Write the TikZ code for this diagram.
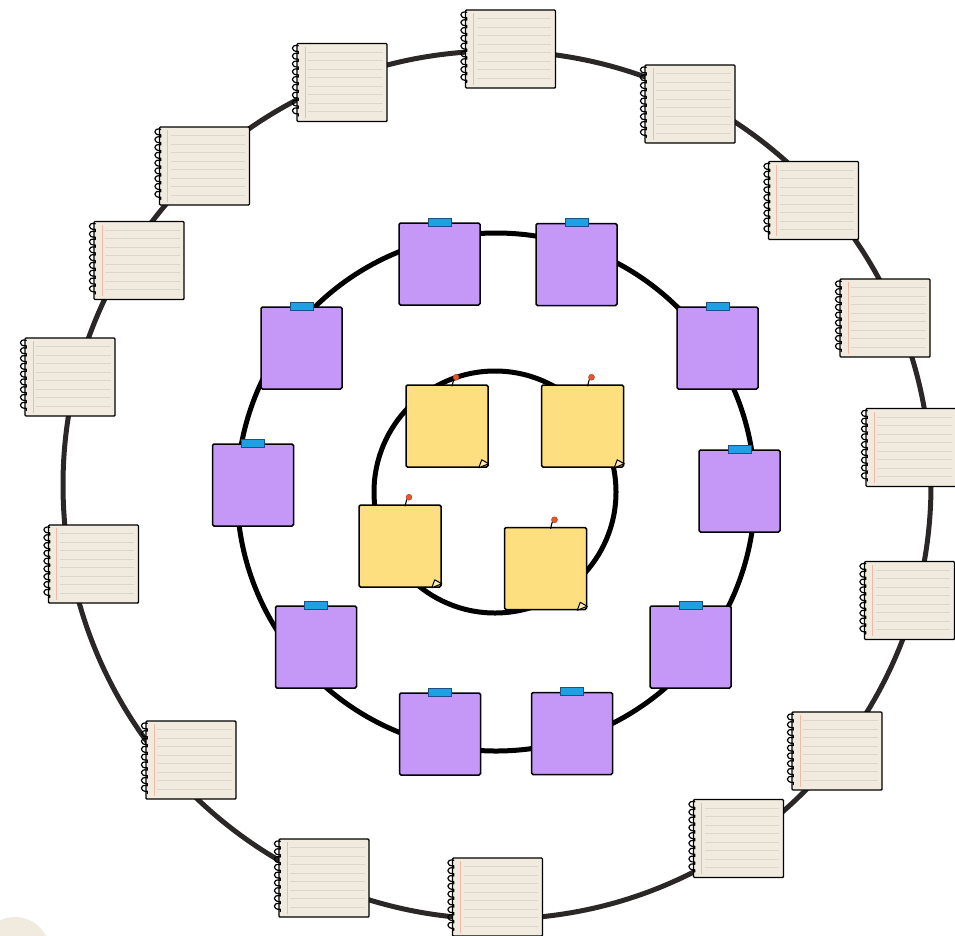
\documentclass[tikz,border=0pt]{standalone}

\definecolor{paperfill}{HTML}{F1EBDF}
\definecolor{paperline}{HTML}{DCD5C9}
\definecolor{papermargin}{HTML}{F2B9A6}
\definecolor{ringgray}{HTML}{2B2727}
\definecolor{purplefill}{HTML}{C597F6}
\definecolor{tapefill}{HTML}{1EA0E2}
\definecolor{tapeedge}{HTML}{1B4F86}
\definecolor{yellowfill}{HTML}{FDDF80}
\definecolor{yellowfold}{HTML}{FBEBB4}
\definecolor{pinred}{HTML}{E8552F}

\begin{document}
\begin{tikzpicture}[x=1pt, y=-1pt]
  % Styles
  \tikzstyle{ring}=[line width=5pt]
  \tikzstyle{paper}=[rectangle, draw, fill=paperfill, minimum width=90pt, minimum height=78pt, inner sep=0pt, line width=1.4pt, rounded corners=1pt]
  \tikzstyle{ruling}=[draw=paperline, line width=0.9pt]
  \tikzstyle{spiral}=[line width=1.2pt, line join=round, line cap=round]
  \tikzstyle{purplenote}=[rectangle, draw, fill=purplefill, minimum width=81pt, minimum height=82pt, inner sep=0pt, line width=1.5pt, rounded corners=1.5pt]
  \tikzstyle{tape}=[rectangle, draw=tapeedge, fill=tapefill, minimum width=23pt, minimum height=8pt, inner sep=0pt, line width=0.8pt]
  \tikzstyle{yellownote}=[rectangle, draw, fill=yellowfill, minimum width=82pt, minimum height=82pt, inner sep=0pt, line width=1.5pt, rounded corners=1.5pt]
  \tikzstyle{pin}=[circle, fill=pinred, draw=pinred!70!black, inner sep=0pt, minimum size=6pt, line width=0.4pt]

  \useasboundingbox (0,0) rectangle (955,935);
  \clip (0,0) rectangle (955,935);

  % Corner scrap
  \fill[paperfill] (15,952) circle (35pt);

  % Rings
  \coordinate (outerc) at (497,485);
  \coordinate (middlec) at (496,492);
  \coordinate (innerc) at (495,492);
  \draw[ring, draw=ringgray] (outerc) circle (434pt);
  \draw[ring] (middlec) circle (259pt);
  \draw[ring] (innerc) circle (121pt);

  % Outer ring: notebook pages
  \foreach \n/\x/\y in {1/510.5/49, 2/342/82.5, 3/204.5/166, 4/139/260.5, 5/70/377, 6/93.5/564,
                        7/191/760, 8/324/878, 9/497.5/897, 10/738.5/838.5, 11/837/751,
                        12/909.5/600.5, 13/911/447.5, 14/885/318, 15/813.5/200.5, 16/690/104} {
    \node[paper] (paper\n) at (\x,\y) {};
    \foreach \k in {0,...,7}
      \draw[ruling] ([shift={(12,{9.5+\k*8.5})}]paper\n.north west) -- ([shift={(-5,{9.5+\k*8.5})}]paper\n.north east);
    \draw[draw=papermargin, line width=0.9pt] ([shift={(9,4)}]paper\n.north west) -- ([shift={(9,-4)}]paper\n.south west);
    \draw[spiral] ([shift={(2,3)}]paper\n.north west)
      \foreach \k in {0,...,8} { .. controls +(-8,-2) and +(-8,1) .. ++(0,5.5) -- ++(0,2.3) };
  }

  % Middle ring: taped notes
  \foreach \n/\x/\y in {1/439.5/264, 2/576.5/264.5, 3/301.5/348, 4/717.5/348, 5/253/485,
                        6/739.5/491, 7/316/647, 8/690.5/647, 9/440/734, 10/572/733.5} {
    \node[purplenote] (purple\n) at (\x,\y) {};
    \node[tape] (tape\n) at (purple\n.north) {};
  }

  % Inner ring: pinned notes
  \foreach \n/\x/\y in {1/447/426, 2/582.5/426, 3/400/546, 4/545.5/568.5} {
    \node[yellownote] (yellow\n) at (\x,\y) {};
    \draw[fill=yellowfold, line width=1pt, line join=round]
      ([shift={(-10,0)}]yellow\n.south east) -- ([shift={(-7,-8)}]yellow\n.south east)
      -- ([shift={(0,-4)}]yellow\n.south east) -- cycle;
    \node[pin] (pin\n) at ([shift={(9,-7)}]yellow\n.north) {};
    \draw[line width=1.1pt] (pin\n.south west) -- ([shift={(5,2)}]yellow\n.north);
  }
\end{tikzpicture}
\end{document}
